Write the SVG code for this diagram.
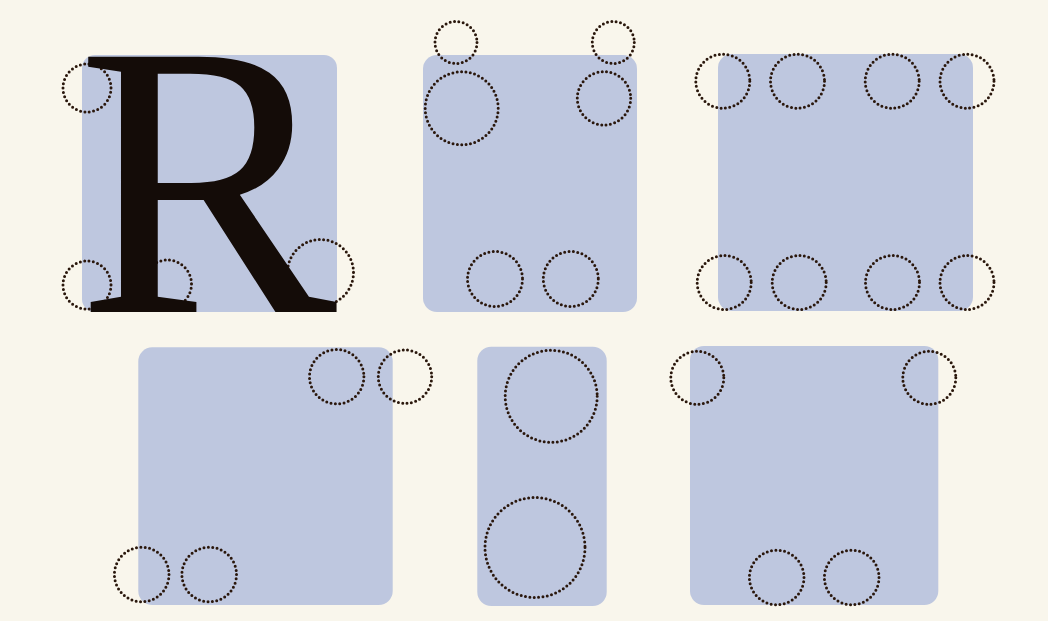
<svg xmlns="http://www.w3.org/2000/svg" width="1048" height="621" viewBox="0 0 1048 621">
  <style>
    .box { fill: #bec7df; }
    .dot { fill: none; stroke: #2a170c; stroke-width: 3; stroke-dasharray: 0 4.4; stroke-linecap: round; }
    .glyph { font-family: "Liberation Serif", "Times New Roman", serif; fill: #140c08; }
  </style>
  <rect x="0" y="0" width="1048" height="621" fill="#f9f6ec"/>

  <g id="panel-r">
    <rect class="box" x="82" y="55" width="255" height="257" rx="13"/>
    <circle class="dot" cx="87" cy="88" r="24"/>
    <circle class="dot" cx="87" cy="285" r="24"/>
    <circle class="dot" cx="167.5" cy="284" r="24"/>
    <circle class="dot" cx="320.5" cy="272.5" r="33"/>
    <text class="glyph" x="77" y="312" font-size="390">R</text>
  </g>

  <g id="panel-2">
    <rect class="box" x="423" y="55" width="214" height="257" rx="14"/>
    <circle class="dot" cx="456" cy="42.5" r="21"/>
    <circle class="dot" cx="613.3" cy="42.5" r="21"/>
    <circle class="dot" cx="461.7" cy="108.3" r="36.5"/>
    <circle class="dot" cx="604" cy="98.3" r="26.7"/>
    <circle class="dot" cx="495" cy="279" r="27.5"/>
    <circle class="dot" cx="570.8" cy="279" r="27.5"/>
  </g>

  <g id="panel-3">
    <rect class="box" x="718" y="54" width="255" height="257" rx="14"/>
    <circle class="dot" cx="722.8" cy="81.2" r="27"/>
    <circle class="dot" cx="797.5" cy="81.2" r="27"/>
    <circle class="dot" cx="892.2" cy="81.2" r="27"/>
    <circle class="dot" cx="967" cy="81.2" r="27"/>
    <circle class="dot" cx="724.2" cy="282.5" r="27"/>
    <circle class="dot" cx="799.2" cy="282.5" r="27"/>
    <circle class="dot" cx="892.5" cy="282.5" r="27"/>
    <circle class="dot" cx="967" cy="282.5" r="27"/>
  </g>

  <g id="panel-4">
    <rect class="box" x="138.3" y="347.3" width="254.4" height="257.7" rx="14"/>
    <circle class="dot" cx="336.7" cy="376.7" r="27.2"/>
    <circle class="dot" cx="405" cy="376.7" r="26.7"/>
    <circle class="dot" cx="141.7" cy="574.5" r="27.3"/>
    <circle class="dot" cx="209.2" cy="574.5" r="27.3"/>
  </g>

  <g id="panel-5">
    <rect class="box" x="477.3" y="346.7" width="129.4" height="259.3" rx="14"/>
    <circle class="dot" cx="551.2" cy="396.3" r="46"/>
    <circle class="dot" cx="535" cy="547.5" r="50"/>
  </g>

  <g id="panel-6">
    <rect class="box" x="690" y="346" width="248.3" height="259" rx="14"/>
    <circle class="dot" cx="697.3" cy="377.8" r="26.5"/>
    <circle class="dot" cx="929.3" cy="377.8" r="26.5"/>
    <circle class="dot" cx="776.7" cy="577.5" r="27.3"/>
    <circle class="dot" cx="851.7" cy="577.5" r="27.3"/>
  </g>
</svg>
